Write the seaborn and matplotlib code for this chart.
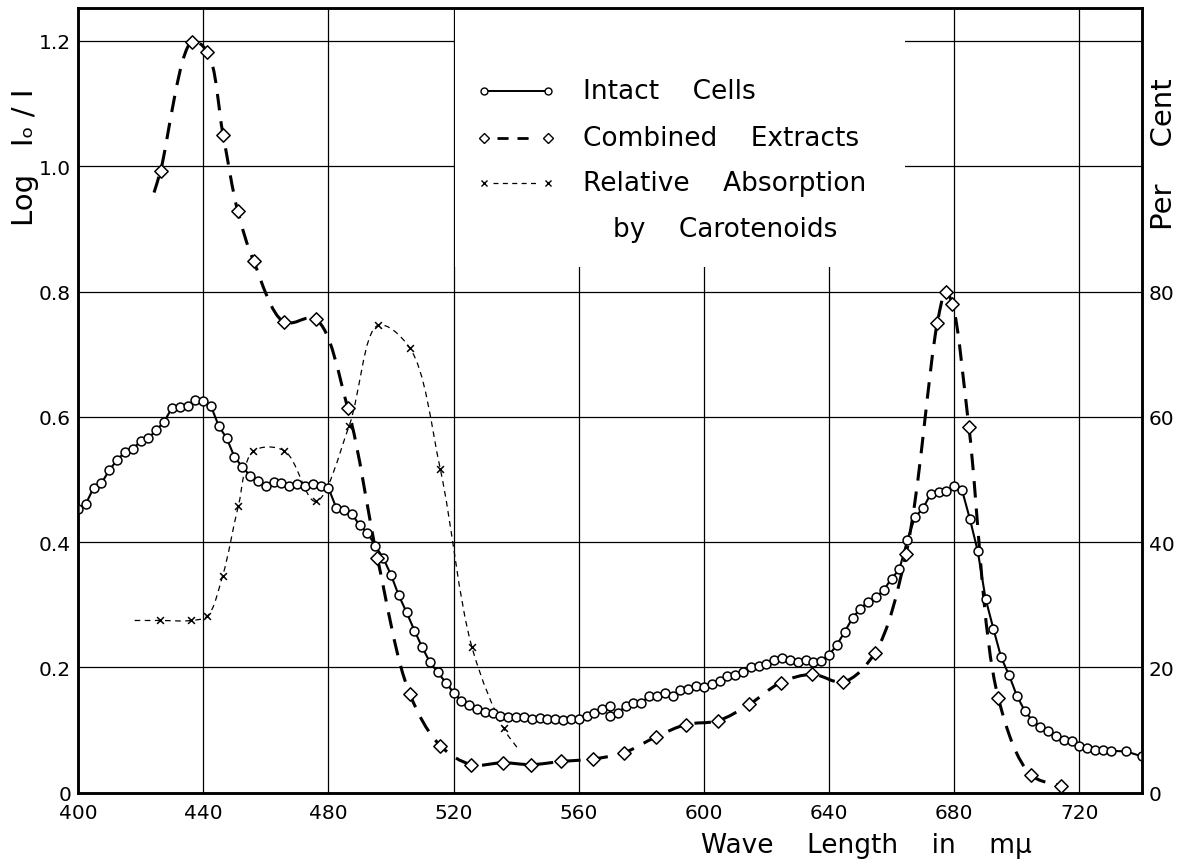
import numpy as np
import matplotlib
matplotlib.use("Agg")
import matplotlib.pyplot as plt
from matplotlib.path import Path
from matplotlib.patches import PathPatch, Rectangle
import seaborn as sns

# ---- absorption data (wavelength in m\u03bc, log I0/I) ----
intact_wl = [400, 402.5, 405, 407.5, 410, 412.5, 415, 417.5, 420, 422.5, 425, 427.5,
             430, 432.5, 435, 437.5, 440, 442.5, 445, 447.5, 450, 452.5, 455, 457.5,
             460, 462.5, 465, 467.5, 470, 472.5, 475, 477.5, 480, 482.5, 485, 487.5,
             490, 492.5, 495, 497.5, 500, 502.5, 505, 507.5, 510, 512.5, 515, 517.5,
             520, 522.5, 525, 527.5, 530, 532.5, 535, 537.5, 540, 542.5, 545, 547.5,
             550, 552.5, 555, 557.5, 560, 562.5, 565, 567.5, 570, 570, 572.5, 575,
             577.5, 580, 582.5, 585, 587.5, 590, 592.5, 595, 597.5, 600, 602.5, 605,
             607.5, 610, 612.5, 615, 617.5, 620, 622.5, 625, 627.5, 630, 632.5, 635,
             637.5, 640, 642.5, 645, 647.5, 650, 652.5, 655, 657.5, 660, 662.5, 665,
             667.5, 670, 672.5, 675, 677.5, 680, 682.5, 685, 687.5, 690, 692.5, 695,
             697.5, 700, 702.5, 705, 707.5, 710, 712.5, 715, 717.5, 720, 722.5, 725,
             727.5, 730, 735, 740]
intact_abs = [0.453, 0.461, 0.487, 0.494, 0.515, 0.531, 0.544, 0.549, 0.561, 0.566, 0.579, 0.592,
              0.614, 0.616, 0.617, 0.627, 0.625, 0.617, 0.585, 0.566, 0.536, 0.520, 0.506, 0.498,
              0.490, 0.496, 0.494, 0.490, 0.493, 0.490, 0.493, 0.490, 0.487, 0.455, 0.451, 0.445,
              0.427, 0.415, 0.394, 0.375, 0.348, 0.315, 0.288, 0.259, 0.232, 0.208, 0.192, 0.176,
              0.160, 0.147, 0.140, 0.134, 0.129, 0.128, 0.122, 0.121, 0.121, 0.121, 0.118, 0.119,
              0.118, 0.118, 0.116, 0.117, 0.117, 0.123, 0.127, 0.134, 0.139, 0.122, 0.128, 0.138,
              0.143, 0.144, 0.154, 0.154, 0.160, 0.155, 0.164, 0.165, 0.171, 0.169, 0.174, 0.178,
              0.186, 0.188, 0.193, 0.200, 0.203, 0.205, 0.212, 0.215, 0.212, 0.209, 0.212, 0.208,
              0.211, 0.220, 0.236, 0.257, 0.279, 0.294, 0.305, 0.312, 0.324, 0.342, 0.357, 0.404,
              0.440, 0.454, 0.477, 0.480, 0.482, 0.489, 0.483, 0.437, 0.386, 0.310, 0.262, 0.216,
              0.188, 0.155, 0.131, 0.115, 0.105, 0.099, 0.090, 0.084, 0.082, 0.074, 0.071, 0.068,
              0.068, 0.067, 0.066, 0.058]

extract_wl = [426.4, 436.5, 441.3, 446.4, 451.0, 456.1, 465.9, 475.9, 486.2, 495.7, 506.0,
              515.8, 525.7, 535.7, 544.8, 554.5, 564.6, 574.5, 584.6, 594.3, 604.5, 614.5,
              624.6, 634.7, 644.6, 654.6, 664.6, 674.6, 677.3, 679.4, 684.7, 694.1, 704.5, 714.1]
extract_abs = [0.993, 1.199, 1.183, 1.049, 0.929, 0.849, 0.751, 0.756, 0.614, 0.374, 0.158,
               0.075, 0.045, 0.048, 0.045, 0.050, 0.054, 0.064, 0.089, 0.109, 0.115, 0.141,
               0.176, 0.189, 0.177, 0.223, 0.381, 0.750, 0.800, 0.780, 0.583, 0.151, 0.029, 0.011]
extract_curve_start = (424.3, 0.958)

carot_wl = [426.2, 436.0, 441.3, 446.2, 451.2, 456.0, 465.9, 475.9, 486.6, 495.9, 506.0,
            515.8, 525.9, 536.0]
carot_abs = [0.275, 0.275, 0.282, 0.346, 0.457, 0.545, 0.546, 0.465, 0.585, 0.746, 0.710,
             0.516, 0.232, 0.103]
carot_curve_start = (418.1, 0.275)
carot_curve_end = (540.5, 0.071)

x_ticks = [400, 440, 480, 520, 560, 600, 640, 680, 720]
y_ticks = [0, 0.2, 0.4, 0.6, 0.8, 1.0, 1.2]
y_ticklabels = ["0", "0.2", "0.4", "0.6", "0.8", "1.0", "1.2"]
pct_ticks = [0, 20, 40, 60, 80]

XMIN, XMAX = 400, 740
YMIN, YMAX = 0, 1.252

sns.set_style("white")
plt.rcParams["font.family"] = ["DejaVu Sans"]

fig = plt.figure(figsize=(11.88, 8.62), dpi=100)
ax = fig.add_axes([78 / 1188, 1 - 793.8 / 862, 1064 / 1188, 784.5 / 862])


def smooth_curve(ax, xs, ys, **style):
    """Draw a smooth (centripetal Catmull-Rom) curve through the given points."""
    sx = 1064.0 / (XMAX - XMIN)
    sy = 784.5 / (YMAX - YMIN)
    P = np.column_stack([np.asarray(xs, float) * sx, np.asarray(ys, float) * sy])
    n = len(P)
    ext = np.vstack([2 * P[0] - P[1], P, 2 * P[-1] - P[-2]])
    verts = [P[0]]
    codes = [Path.MOVETO]
    for i in range(1, n):
        p0, p1, p2, p3 = ext[i - 1], ext[i], ext[i + 1], ext[i + 2]
        d1 = max(np.linalg.norm(p1 - p0), 1e-6) ** 0.5
        d2 = max(np.linalg.norm(p2 - p1), 1e-6) ** 0.5
        d3 = max(np.linalg.norm(p3 - p2), 1e-6) ** 0.5
        b1 = (d1 ** 2 * p2 - d2 ** 2 * p0 + (2 * d1 ** 2 + 3 * d1 * d2 + d2 ** 2) * p1) / (3 * d1 * (d1 + d2))
        b2 = (d3 ** 2 * p1 - d2 ** 2 * p3 + (2 * d3 ** 2 + 3 * d3 * d2 + d2 ** 2) * p2) / (3 * d3 * (d3 + d2))
        verts += [b1, b2, p2]
        codes += [Path.CURVE4] * 3
    V = np.array(verts)
    V[:, 0] /= sx
    V[:, 1] /= sy
    patch = PathPatch(Path(V, codes), fill=False, transform=ax.transData,
                      capstyle="butt", joinstyle="round", **style)
    ax.add_patch(patch)


# grid and frame
ax.set_axisbelow(True)
ax.grid(True, color="black", linewidth=0.9)
for sp in ax.spines.values():
    sp.set_color("black")
    sp.set_linewidth(1.8)

# combined extracts: heavy dashed curve with open diamonds
smooth_curve(ax, [extract_curve_start[0]] + extract_wl, [extract_curve_start[1]] + extract_abs,
             edgecolor="black", linewidth=2.2, linestyle=(0, (5.4, 3.6)), zorder=3)
sns.scatterplot(x=extract_wl, y=extract_abs, marker="D", s=46, facecolor="white",
                edgecolor="black", linewidth=1.1, ax=ax, zorder=5)

# relative absorption by carotenoids: fine dashed curve with crosses
smooth_curve(ax, [carot_curve_start[0]] + carot_wl + [carot_curve_end[0]],
             [carot_curve_start[1]] + carot_abs + [carot_curve_end[1]],
             edgecolor="black", linewidth=0.9, linestyle=(0, (4.5, 3.6)), zorder=3)
sns.scatterplot(x=carot_wl, y=carot_abs, marker="x", s=24, color="black",
                linewidth=1.1, ax=ax, zorder=5)

# intact cells: solid line with open circles
sns.lineplot(x=intact_wl, y=intact_abs, estimator=None, sort=False, color="black",
             linewidth=1.5, marker="o", markersize=6.4, markerfacecolor="white",
             markeredgecolor="black", markeredgewidth=1.1, ax=ax, zorder=4)

ax.set_xlim(XMIN, XMAX)
ax.set_ylim(YMIN, YMAX)
ax.set_xticks(x_ticks)
ax.set_xticklabels([str(t) for t in x_ticks])
ax.set_yticks(y_ticks)
ax.set_yticklabels(y_ticklabels)
ax.tick_params(axis="both", length=0, labelsize=14.5, colors="black")
ax.tick_params(axis="x", pad=7)
ax.tick_params(axis="y", pad=5)
ax.set_xlabel("")
ax.set_ylabel("")

ax2 = ax.twinx()
ax2.set_ylim(YMIN * 100, YMAX * 100)
ax2.set_yticks(pct_ticks)
ax2.set_yticklabels([str(t) for t in pct_ticks])
ax2.tick_params(axis="y", length=0, labelsize=14.5, pad=5, colors="black")
ax2.grid(False)
for sp in ax2.spines.values():
    sp.set_color("black")
    sp.set_linewidth(1.8)


# legend panel (positions in axes fractions)
def fx(px):
    return (px - 78) / 1064.0


def fy(py):
    return (793.8 - py) / 784.5


ax.add_patch(Rectangle((fx(455), fy(268)), fx(905) - fx(455), 1.0 - fy(268),
                       transform=ax.transAxes, facecolor="white", edgecolor="none", zorder=2))
lx0, lx1 = fx(484), fx(548)
tx = fx(583)
rows = [fy(92), fy(139), fy(184)]
ax.plot([lx0, lx1], [rows[0]] * 2, transform=ax.transAxes, color="black", linewidth=1.4,
        marker="o", markersize=5, markerfacecolor="white", markeredgewidth=1.0, zorder=6)
ax.plot([lx0 + 0.012, lx1 - 0.012], [rows[1]] * 2, transform=ax.transAxes, color="black",
        linewidth=2.0, linestyle=(0, (4.0, 3.2)), zorder=6)
ax.plot([lx0, lx1], [rows[1]] * 2, transform=ax.transAxes, linestyle="none", marker="D",
        markersize=4.8, markerfacecolor="white", markeredgecolor="black", markeredgewidth=1.0,
        zorder=6)
ax.plot([lx0 + 0.008, lx1 - 0.008], [rows[2]] * 2, transform=ax.transAxes, color="black",
        linewidth=0.9, linestyle=(0, (4.0, 3.5)), zorder=6)
ax.plot([lx0, lx1], [rows[2]] * 2, transform=ax.transAxes, linestyle="none", marker="x",
        markersize=4, markeredgecolor="black", markeredgewidth=1.0, zorder=6)
legend_font = dict(fontsize=19, color="black", va="center", ha="left",
                   transform=ax.transAxes, zorder=6)
ax.text(tx, rows[0], "Intact    Cells", **legend_font)
ax.text(tx, rows[1], "Combined    Extracts", **legend_font)
ax.text(tx, rows[2], "Relative    Absorption", **legend_font)
ax.text(fx(613), fy(230), "by    Carotenoids", **legend_font)

# axis titles
fig.text(866 / 1188, 1 - 846 / 862, "Wave    Length    in    m\u03bc", fontsize=19,
         ha="center", va="center", color="black")
fig.text(25 / 1188, 1 - 157 / 862, "Log   I\u2092 / I", fontsize=21, rotation=90,
         ha="center", va="center", color="black")
fig.text(1164 / 1188, 1 - 154 / 862, "Per    Cent", fontsize=21, rotation=90,
         ha="center", va="center", color="black")

fig.savefig("out.png", dpi=100, facecolor="white")
